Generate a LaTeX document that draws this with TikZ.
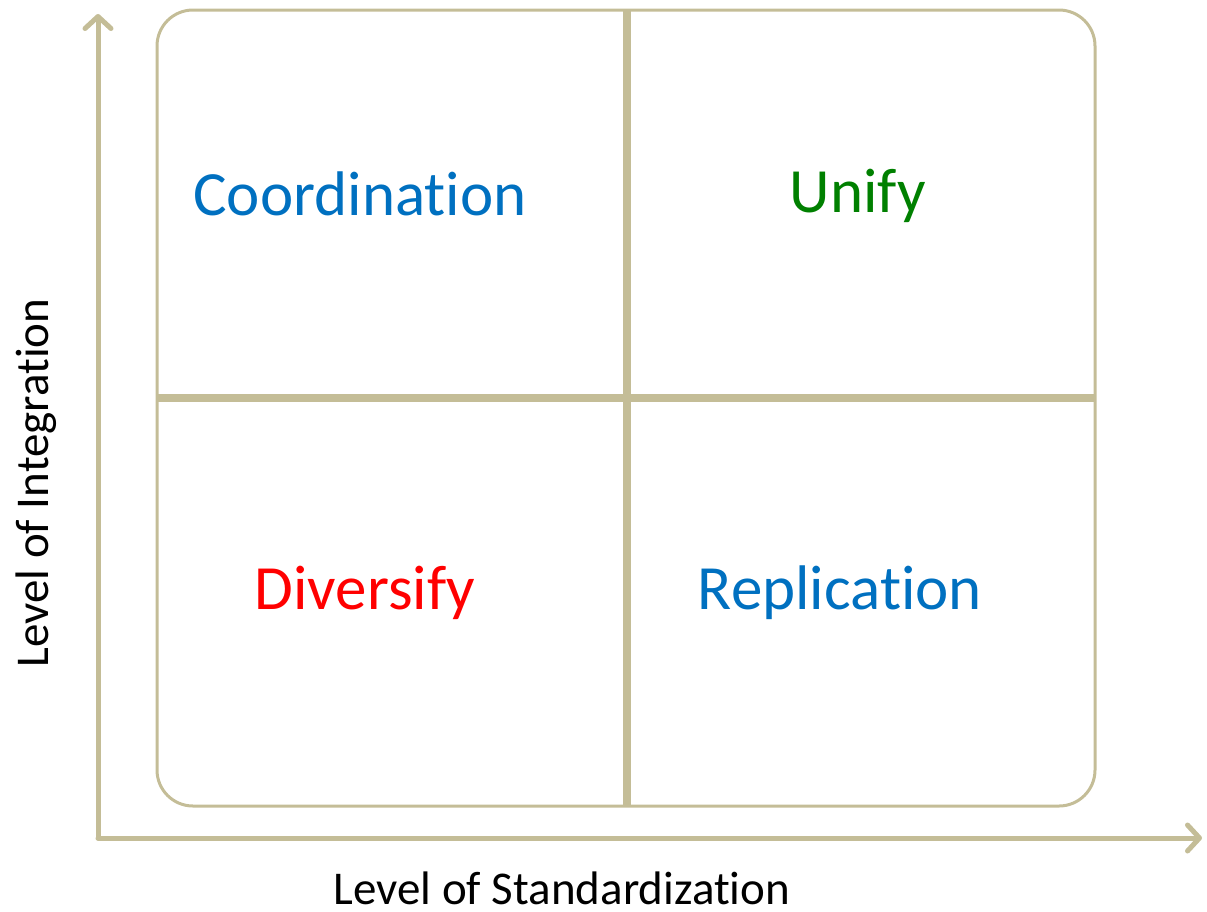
\documentclass[tikz,border=0pt]{standalone}
\usepackage{fontspec}
\setmainfont{Carlito}
\usetikzlibrary{arrows.meta}
\definecolor{tan}{HTML}{C4BD97}
\definecolor{qblue}{HTML}{0070C0}
\definecolor{qgreen}{HTML}{008000}
\definecolor{qred}{HTML}{FF0000}
\newcommand{\tiq}{t\kern0pt i}
\tikzset{
  axis/.style={draw=tan, line width=5pt, line cap=round, -{Straight Barb[length=12pt,width=26pt,line cap=round,round]}},
  divider/.style={draw=tan, line width=8pt},
  quad/.style={font=\fontsize{63}{70}\selectfont},
  axlabel/.style={font=\fontsize{47}{52}\selectfont, text=black, anchor=base, inner sep=0pt}
}
\begin{document}
\begin{tikzpicture}[x=1pt,y=-1pt]
\useasboundingbox (0,0) rectangle (1207,911);
\coordinate (origin) at (98,838);
\coordinate (ytip) at (98,14);
\coordinate (xtip) at (1202,838);
\draw[axis] (origin) -- (ytip);
\draw[axis] (origin) -- (xtip);
\draw[tan, line width=3pt, rounded corners=36pt] (157,10) rectangle (1095,806);
\coordinate (vt) at (627,10);
\coordinate (vb) at (627,806);
\coordinate (hl) at (157,398);
\coordinate (hr) at (1095,398);
\draw[divider] (vt) -- (vb);
\draw[divider] (hl) -- (hr);
\node[quad, text=qblue] (coord) at (360,194) {Coordina\tiq on};
\node[quad, text=qgreen] (unify) at (858,196) {Unify};
\node[quad, text=qred] (div) at (365,593) {Diversify};
\node[quad, text=qblue] (rep) at (840,593) {Replica\tiq on};
\node[axlabel] (xl) at (562,904) {Level of Standardiza\tiq on};
\node[axlabel, rotate=90] (yl) at (48,483) {Level of Integra\tiq on};
\end{tikzpicture}
\end{document}
